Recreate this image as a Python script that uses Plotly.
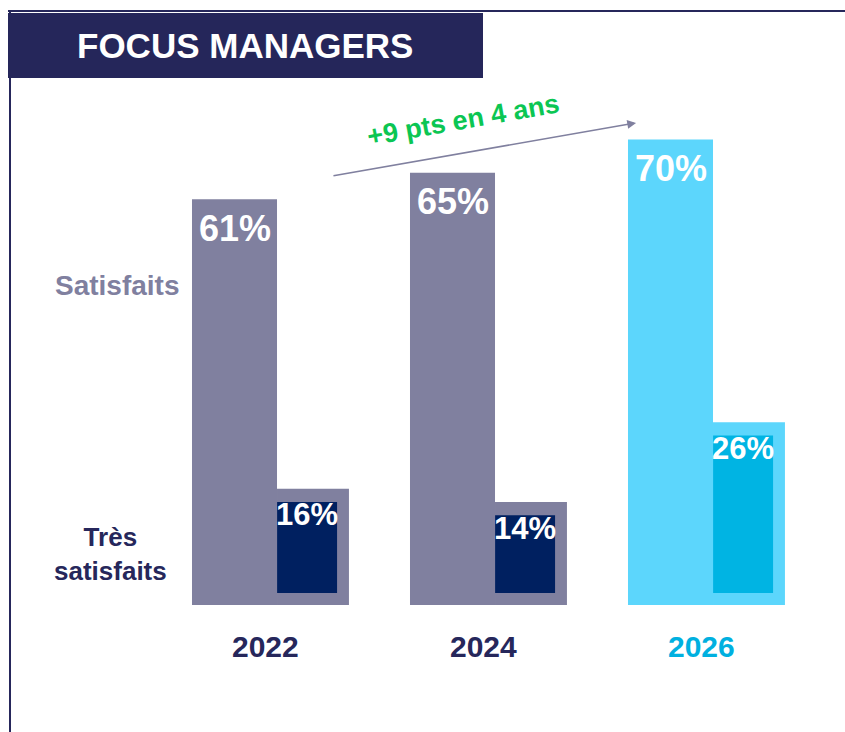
import plotly.graph_objects as go

# ---------------- data ----------------
years = ["2022", "2024", "2026"]
satisfaits = [61, 65, 70]
tres_satisfaits = [16, 14, 26]
title_text = "FOCUS MANAGERS"
trend_text = "+9 pts en 4 ans"
row_labels = ["Satisfaits", "Très<br>satisfaits"]

# ---------------- styles ----------------
W, H = 845, 732
NAVY = "#26275B"
GREY = "#80809F"
DARK = "#002060"
LIGHT = "#5CD6FC"
CYAN = "#00B4E3"
GREEN = "#0BC653"
FONT = "Liberation Sans, Arial, sans-serif"

outer_colors = [GREY, GREY, LIGHT]
inner_colors = [DARK, DARK, CYAN]
year_colors = [NAVY, NAVY, "#00B0E0"]

TALL_W, EXT_OFF, EXT_W, INN_OFF, INN_W = 0.39, 0.36, 0.33, 0.333, 0.275
EXT_PAD, INN_BASE, INN_TRIM = 1.5, 1.8, 0.5

xs = list(range(len(years)))

fig = go.Figure()
# tall "Satisfaits" bars
fig.add_trace(go.Bar(x=xs, y=satisfaits, width=TALL_W, marker=dict(color=outer_colors, line=dict(width=0)),
                     hoverinfo="skip"))
# lower extension (frame for "Très satisfaits")
fig.add_trace(go.Bar(x=[i + EXT_OFF for i in xs], y=[v + EXT_PAD for v in tres_satisfaits], width=EXT_W,
                     marker=dict(color=outer_colors, line=dict(width=0)), hoverinfo="skip"))
# inner "Très satisfaits" bars
fig.add_trace(go.Bar(x=[i + INN_OFF for i in xs], y=[v - INN_TRIM - INN_BASE for v in tres_satisfaits],
                     base=[INN_BASE] * len(xs), width=INN_W,
                     marker=dict(color=inner_colors, line=dict(width=0)), hoverinfo="skip"))

ann = []
for i, (s, t) in enumerate(zip(satisfaits, tres_satisfaits)):
    ann.append(dict(x=i, y=s, yshift=-29, text=f"<b>{s}%</b>", showarrow=False, xanchor="center",
                    font=dict(family=FONT, size=36, color="white"), yanchor="middle"))
    ann.append(dict(x=i + INN_OFF, y=t - INN_TRIM, yshift=-13, text=f"<b>{t}%</b>", showarrow=False,
                    xanchor="center", font=dict(family=FONT, size=31, color="white"), yanchor="middle"))
    ann.append(dict(x=i + 0.14, y=-6.3, text=f"<b>{years[i]}</b>", showarrow=False, xanchor="center",
                    font=dict(family=FONT, size=30, color=year_colors[i]), yanchor="middle"))

# row labels
ann.append(dict(x=-0.537, y=48.1, text=f"<b>{row_labels[0]}</b>", showarrow=False, xanchor="center",
                font=dict(family=FONT, size=28, color=GREY), yanchor="middle"))
ann.append(dict(x=-0.567, y=7.6, text=f"<b>{row_labels[1]}</b>", showarrow=False, xanchor="center",
                font=dict(family=FONT, size=26, color=NAVY), yanchor="middle"))

# trend arrow
ann.append(dict(x=1.842, y=72.5, ax=0.447, ay=64.5, axref="x", ayref="y", xref="x", yref="y",
                text="", showarrow=True, arrowhead=2, arrowsize=1.1, arrowwidth=1.6, arrowcolor=GREY))
ann.append(dict(x=1.048, y=73.0, text=f"<b>{trend_text}</b>", showarrow=False, textangle=-10,
                xanchor="center", font=dict(family=FONT, size=27, color=GREEN), yanchor="middle"))

# title
ann.append(dict(x=245 / W, y=1 - 45 / H, xref="paper", yref="paper", text=f"<b>{title_text}</b>",
                showarrow=False, xanchor="center", font=dict(family=FONT, size=35, color="white"),
                yanchor="middle"))

shapes = [
    dict(type="line", xref="paper", yref="paper", x0=8 / W, x1=1, y0=1 - 11 / H, y1=1 - 11 / H,
         line=dict(color=NAVY, width=2), layer="below"),
    dict(type="line", xref="paper", yref="paper", x0=10 / W, x1=10 / W, y0=0, y1=1 - 11 / H,
         line=dict(color=NAVY, width=2), layer="below"),
    dict(type="rect", xref="paper", yref="paper", x0=8 / W, x1=483 / W, y0=1 - 78 / H, y1=1 - 13 / H,
         fillcolor="#25265A", line=dict(width=0), layer="below"),
]

fig.update_layout(
    width=W, height=H, autosize=False,
    margin=dict(l=0, r=0, t=0, b=0),
    paper_bgcolor="white", plot_bgcolor="rgba(0,0,0,0)",
    barmode="overlay", showlegend=False,
    xaxis=dict(visible=False, range=[-234.5 / 218, (W - 234.5) / 218], fixedrange=True),
    yaxis=dict(visible=False, range=[-(H - 605) / 6.65, 605 / 6.65], fixedrange=True),
    annotations=ann, shapes=shapes,
)

fig.write_html("out.html", config={"displayModeBar": False},
               post_script="document.body.style.margin='0';")
